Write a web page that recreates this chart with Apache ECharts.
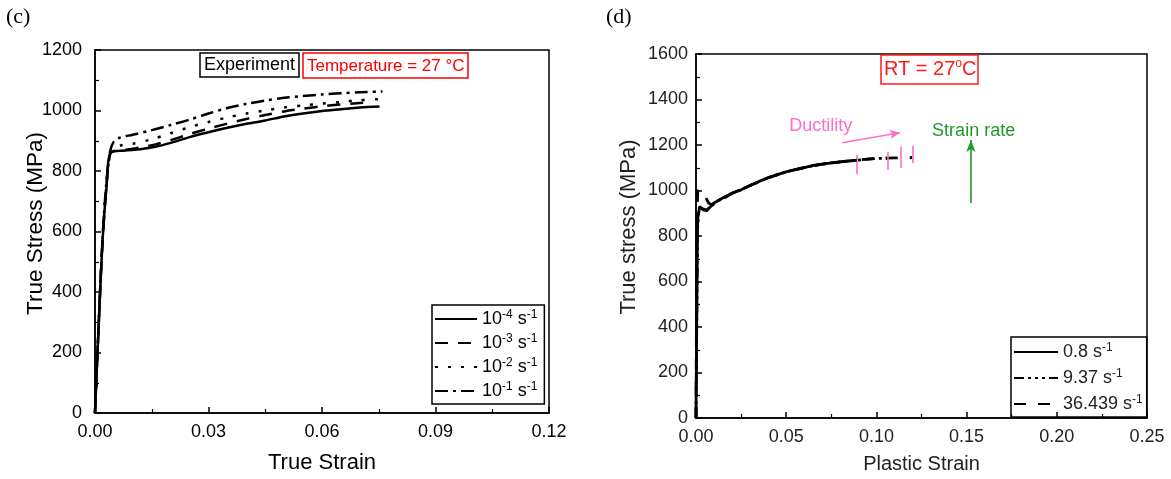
<!DOCTYPE html>
<html><head><meta charset="utf-8">
<script src="https://cdn.jsdelivr.net/npm/echarts@6/dist/echarts.min.js"></script>
<style>html,body{margin:0;padding:0;background:#fff}#c{width:1171px;height:479px}</style>
</head><body><div id="c"></div>
<script>
// ---------- Panel (c) data ----------
const cRateExponents = ['-4', '-3', '-2', '-1'];
const cStrain_m4 = [0, 0.001, 0.002, 0.003, 0.0042, 0.008, 0.012, 0.016, 0.02, 0.025, 0.03, 0.035, 0.04, 0.045, 0.05, 0.055, 0.06, 0.065, 0.07, 0.0752];
const cStress_m4 = [0, 300, 570, 740, 862, 868, 872, 880, 893, 912, 928, 943, 956, 967, 980, 990, 998, 1004, 1010, 1013];
const cStrain_m3 = [0, 0.001, 0.002, 0.003, 0.004, 0.005, 0.008, 0.012, 0.016, 0.02, 0.025, 0.03, 0.035, 0.04, 0.045, 0.05, 0.055, 0.06, 0.065, 0.07, 0.0735];
const cStress_m3 = [0, 295, 565, 745, 855, 866, 870, 878, 888, 902, 922, 940, 957, 972, 985, 997, 1006, 1014, 1020, 1025, 1028];
const cStrain_m2 = [0, 0.001, 0.002, 0.003, 0.004, 0.005, 0.007, 0.01, 0.015, 0.02, 0.025, 0.03, 0.035, 0.04, 0.045, 0.05, 0.055, 0.06, 0.065, 0.07, 0.0755];
const cStress_m2 = [0, 300, 575, 750, 858, 875, 885, 890, 905, 925, 945, 962, 977, 990, 1000, 1010, 1017, 1023, 1028, 1034, 1038];
const cStrain_m1 = [0, 0.001, 0.002, 0.003, 0.004, 0.005, 0.0065, 0.01, 0.015, 0.02, 0.025, 0.03, 0.035, 0.04, 0.045, 0.05, 0.055, 0.06, 0.065, 0.07, 0.076];
const cStress_m1 = [0, 310, 580, 760, 865, 898, 910, 920, 935, 952, 970, 990, 1008, 1022, 1033, 1042, 1048, 1053, 1057, 1060, 1063];
const cXTicks = { min: 0, max: 0.12, interval: 0.03 };
const cYTicks = { min: 0, max: 1200, interval: 200 };

// ---------- Panel (d) data ----------
const dRates = ['0.8', '9.37', '36.439'];
const dStrain_08 = [0, 0.0003, 0.0006, 0.0008, 0.001, 0.0015, 0.002, 0.003, 0.004, 0.005, 0.006, 0.007, 0.008, 0.01, 0.015, 0.02, 0.025, 0.028, 0.03, 0.035, 0.04, 0.045, 0.05, 0.055, 0.06, 0.065, 0.07, 0.075, 0.08, 0.085, 0.0891];
const dStress_08 = [0, 300, 600, 800, 880, 900, 930, 925, 915, 918, 912, 920, 928, 945, 968, 988, 1003, 1014, 1022, 1040, 1056, 1070, 1082, 1092, 1101, 1110, 1116, 1121, 1126, 1130, 1133];
const dStrain_937 = [0, 0.0008, 0.0015, 0.003, 0.006, 0.01, 0.02, 0.03, 0.04, 0.05, 0.06, 0.07, 0.08, 0.089, 0.095, 0.1, 0.1062];
const dStress_937 = [0, 820, 905, 922, 914, 945, 988, 1022, 1056, 1082, 1101, 1116, 1126, 1133, 1138, 1141, 1142];
const dStrain_36 = [0, 0.0005, 0.001, 0.003, 0.005, 0.007, 0.009, 0.02, 0.03, 0.04, 0.05, 0.06, 0.07, 0.08, 0.09, 0.1, 0.106, 0.11, 0.115, 0.1199];
const dStress_36 = [0, 900, 1000, 1000, 975, 945, 935, 988, 1022, 1056, 1082, 1101, 1116, 1126, 1134, 1141, 1142, 1143, 1144, 1145];
const dXTicks = { min: 0, max: 0.25, interval: 0.05 };
const dYTicks = { min: 0, max: 1600, interval: 200 };

// annotations (d)
const ductTickStrain = [0.0891, 0.1062, 0.1136, 0.1199];
const ductTickLow = [1073, 1090, 1099, 1121];
const ductTickHigh = [1156, 1169, 1193, 1197];
const ductArrowStrain = [0.081, 0.113];
const ductArrowStress = [1210, 1254];
const rateArrowStrain = [0.1524, 0.1524];
const rateArrowStress = [945, 1222];
const ductLabel = { text: 'Ductility', strain: 0.0692, stress: 1284 };
const rateLabel = { text: 'Strain rate', strain: 0.1539, stress: 1263 };

const zip = (a, b) => a.map((v, i) => [v, b[i]]);
const SANS = 'Arial, "Liberation Sans", sans-serif';
const PINK = '#ff6ec4';
const GREEN = '#1f9a2a';

const chart = echarts.init(document.getElementById('c'), null, { renderer: 'canvas' });

function xAxisCfg(grid, t, color) {
  return {
    type: 'value', gridIndex: grid, min: t.min, max: t.max, interval: t.interval,
    nameMoveOverlap: false,
    axisLine: { show: true, onZero: false, lineStyle: { color: '#000', width: 1.5 } },
    axisTick: { show: true, inside: true, length: 6, lineStyle: { color: '#000', width: 1.5 } },
    minorTick: { show: true, splitNumber: 2, length: 4, lineStyle: { color: '#000', width: 1.2 } },
    splitLine: { show: false },
    axisLabel: { color: color, fontSize: 18, fontFamily: SANS, margin: 10, formatter: v => v.toFixed(2) }
  };
}
function yAxisCfg(grid, t, color, margin) {
  return {
    type: 'value', gridIndex: grid, min: t.min, max: t.max, interval: t.interval,
    nameMoveOverlap: false,
    axisLine: { show: true, onZero: false, lineStyle: { color: '#000', width: 1.5 } },
    axisTick: { show: true, inside: true, length: 6, lineStyle: { color: '#000', width: 1.5 } },
    minorTick: { show: true, splitNumber: 2, length: 4, lineStyle: { color: '#000', width: 1.2 } },
    splitLine: { show: false },
    axisLabel: { color: color, fontSize: 18, fontFamily: SANS, margin: margin, formatter: v => String(v) }
  };
}

function supRich(color) {
  return {
    n: { fontSize: 18, fontFamily: SANS, color: color, lineHeight: 20 },
    sup: { fontSize: 12, fontFamily: SANS, color: color, verticalAlign: 'top', lineHeight: 20, padding: [0, 0, 8, 0] }
  };
}

const cNames = cRateExponents.map(e => 'rate' + e);
const cSets = [
  [cStrain_m4, cStress_m4, 'solid'],
  [cStrain_m3, cStress_m3, [13, 10]],
  [cStrain_m2, cStress_m2, [3, 10]],
  [cStrain_m1, cStress_m1, [13, 5, 3, 5]]
];
const cSeries = cSets.map((s, i) => ({
  name: cNames[i], type: 'line', xAxisIndex: 0, yAxisIndex: 0,
  data: zip(s[0], s[1]), symbol: 'none', smooth: 0.3, z: 3 + (3 - i),
  lineStyle: { color: '#000', width: 2.5, type: s[2] }, itemStyle: { color: '#000' }
}));

const dTypes = ['solid', [10, 4, 3, 4, 3, 4, 3, 4], [12, 12]];
const dSets = [[dStrain_08, dStress_08], [dStrain_937, dStress_937], [dStrain_36, dStress_36]];
const dNames = dRates.map(r => 'd' + r);
const dSeries = dSets.map((s, i) => ({
  name: dNames[i], type: 'line', xAxisIndex: 1, yAxisIndex: 1,
  data: zip(s[0], s[1]), symbol: 'none', z: 5 - i,
  lineStyle: { color: '#000', width: 2.8, type: dTypes[i] }, itemStyle: { color: '#000' }
}));

const tickLines = ductTickStrain.map((x, i) => [
  { coord: [x, ductTickLow[i]], lineStyle: { color: PINK, width: 1.6, type: 'solid' } },
  { coord: [x, ductTickHigh[i]] }
]);
const annotSeries = {
  name: 'annot', type: 'line', xAxisIndex: 1, yAxisIndex: 1, data: [], symbol: 'none', silent: true, z: 10,
  markLine: {
    silent: true, animation: false, symbol: ['none', 'none'], label: { show: false },
    data: tickLines.concat([
      [{ coord: [ductArrowStrain[0], ductArrowStress[0]], symbol: 'none', lineStyle: { color: PINK, width: 1.6, type: 'solid' } },
       { coord: [ductArrowStrain[1], ductArrowStress[1]], symbol: 'arrow', symbolSize: [7, 10] }],
      [{ coord: [rateArrowStrain[0], rateArrowStress[0]], symbol: 'none', lineStyle: { color: GREEN, width: 1.6, type: 'solid' } },
       { coord: [rateArrowStrain[1], rateArrowStress[1]], symbol: 'arrow', symbolSize: [7, 12] }]
    ])
  },
  markPoint: {
    silent: true, animation: false, symbol: 'circle', symbolSize: 0,
    data: [
      { coord: [ductLabel.strain, ductLabel.stress], label: { show: true, position: 'inside', formatter: ductLabel.text, color: PINK, fontSize: 18, fontFamily: SANS } },
      { coord: [rateLabel.strain, rateLabel.stress], label: { show: true, position: 'inside', formatter: rateLabel.text, color: GREEN, fontSize: 18, fontFamily: SANS } }
    ]
  }
};

const hiddenSymbol = { color: 'transparent', opacity: 0, borderWidth: 0 };

const option = {
  animation: false,
  backgroundColor: '#fff',
  title: [
    { text: '(c)', left: 6, top: 6, padding: 0, textStyle: { fontFamily: '"Liberation Serif", "Times New Roman", serif', fontSize: 22, fontWeight: 'normal', color: '#000' } },
    { text: '(d)', left: 606, top: 6, padding: 0, textStyle: { fontFamily: '"Liberation Serif", "Times New Roman", serif', fontSize: 22, fontWeight: 'normal', color: '#000' } },
    { text: 'Experiment', left: 200, top: 53, padding: [2, 4, 1, 4], borderColor: '#000', borderWidth: 1.5, textStyle: { fontFamily: SANS, fontSize: 18, fontWeight: 'normal', color: '#000', lineHeight: 21 } },
    { text: 'Temperature = 27 °C', left: 303, top: 53, padding: [3, 4, 2, 4], borderColor: '#ff0000', borderWidth: 1.5, textStyle: { fontFamily: SANS, fontSize: 17, fontWeight: 'normal', color: '#ff0000', lineHeight: 20 } },
    { text: 'RT = 27{s|o}C', left: 881, top: 55, padding: [3, 2, 3, 3], borderColor: '#ff1a1a', borderWidth: 1.5,
      textStyle: { fontFamily: SANS, fontSize: 20, fontWeight: 'normal', color: '#ff1a1a', lineHeight: 23,
        rich: { s: { fontSize: 12, color: '#ff1a1a', fontFamily: SANS, verticalAlign: 'top', lineHeight: 23, padding: [0, 0, 8, 0] } } } }
  ],
  grid: [
    { left: 95, top: 50, width: 454, height: 365, show: true, borderColor: '#000', borderWidth: 1.5, backgroundColor: 'transparent' },
    { left: 696, top: 54, width: 451, height: 364, show: true, borderColor: '#000', borderWidth: 1.5, backgroundColor: 'transparent' }
  ],
  xAxis: [
    Object.assign(xAxisCfg(0, cXTicks, '#000'), { name: 'True Strain', nameLocation: 'middle', nameGap: 39, nameTextStyle: { fontSize: 22, fontFamily: SANS, color: '#000' } }),
    Object.assign(xAxisCfg(1, dXTicks, '#222'), { name: 'Plastic Strain', nameLocation: 'middle', nameGap: 36, nameTextStyle: { fontSize: 20, fontFamily: SANS, color: '#222' } })
  ],
  yAxis: [
    Object.assign(yAxisCfg(0, cYTicks, '#000', 13), { name: 'True Stress (MPa)', nameLocation: 'middle', nameGap: 48, nameTextStyle: { fontSize: 22.5, fontFamily: SANS, color: '#000', padding: [0, 0, 0, 16] } }),
    Object.assign(yAxisCfg(1, dYTicks, '#222', 8), { name: 'True stress (MPa)', nameLocation: 'middle', nameGap: 56, nameTextStyle: { fontSize: 22, fontFamily: SANS, color: '#222', padding: [0, 0, 0, 18] } })
  ],
  legend: [
    {
      data: cNames, orient: 'vertical', left: 432, top: 305, padding: [4, 7, 3, 2], itemGap: 4,
      itemWidth: 42, itemHeight: 20, borderColor: '#000', borderWidth: 1.5, selectedMode: false,
      itemStyle: hiddenSymbol,
      formatter: name => '{n|10}{sup|' + cRateExponents[cNames.indexOf(name)] + '}{n| s}{sup|-1}',
      textStyle: { fontSize: 18, fontFamily: SANS, color: '#000', rich: supRich('#000') }
    },
    {
      data: dNames, orient: 'vertical', left: 1011, top: 337, padding: [5, 4, 3, 2], itemGap: 6,
      itemWidth: 44, itemHeight: 20, borderColor: '#000', borderWidth: 1.5, selectedMode: false,
      itemStyle: hiddenSymbol,
      formatter: name => '{n|' + dRates[dNames.indexOf(name)] + ' s}{sup|-1}',
      textStyle: { fontSize: 18, fontFamily: SANS, color: '#222', rich: supRich('#222') }
    }
  ],
  series: cSeries.concat(dSeries, [annotSeries])
};
chart.setOption(option);
</script>
</body></html>
